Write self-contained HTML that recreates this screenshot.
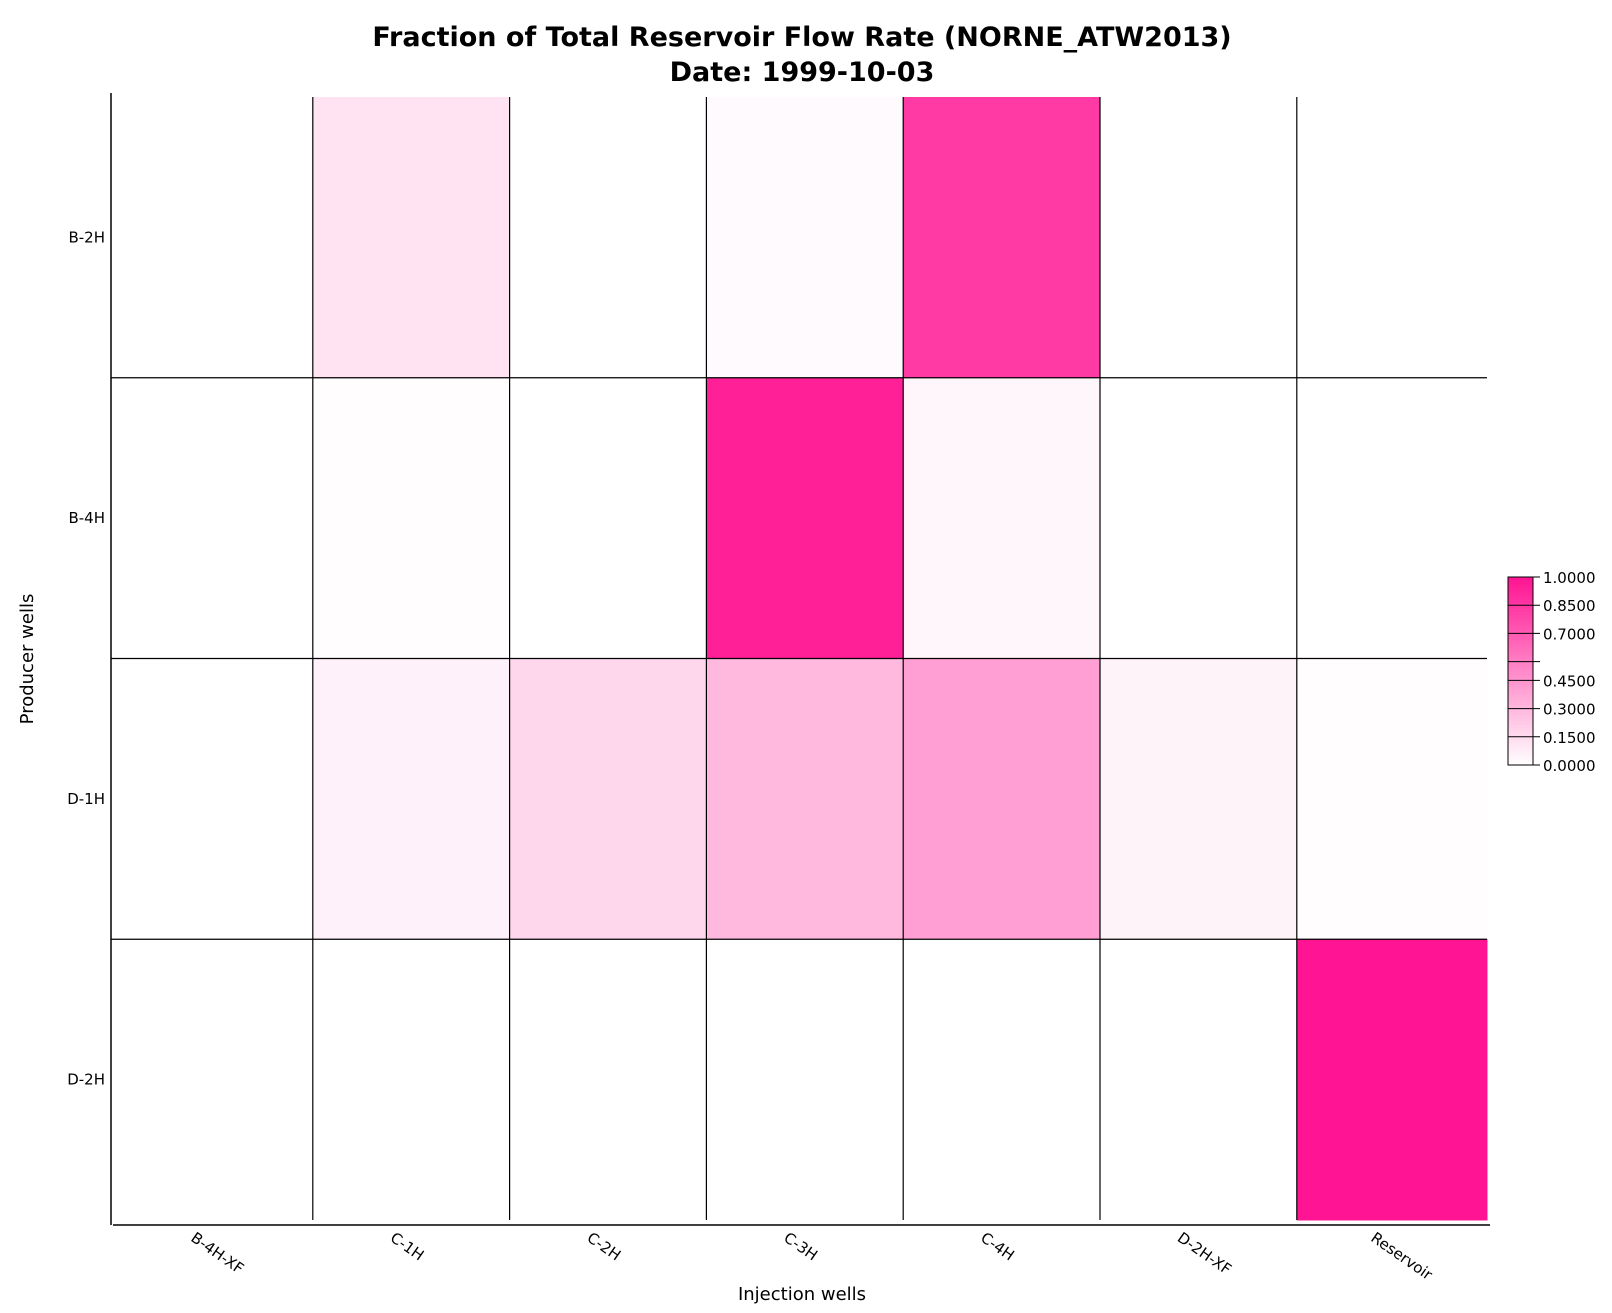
<!DOCTYPE html>
<html><head><meta charset="utf-8"><style>
html,body{margin:0;padding:0;background:#fff;}
svg{display:block;font-family:"DejaVu Sans","Liberation Sans",sans-serif;}
</style></head><body>
<svg id="chart" width="1612" height="1313" viewBox="0 0 1612 1313" xmlns="http://www.w3.org/2000/svg">
<text x="802" y="46" text-anchor="middle" font-size="27" font-weight="bold">Fraction of Total Reservoir Flow Rate (NORNE_ATW2013)</text>
<text x="802" y="81" text-anchor="middle" font-size="27" font-weight="bold">Date: 1999-10-03</text>
<g id="cells"></g>
<g id="grid"></g>
<g id="axes"></g>
<g id="cbar"></g>
<text x="802" y="1300" text-anchor="middle" font-size="18">Injection wells</text>
<text transform="translate(33,659) rotate(-90)" text-anchor="middle" font-size="18">Producer wells</text>
</svg>
<script>
const injectors = ["B-4H-XF","C-1H","C-2H","C-3H","C-4H","D-2H-XF","Reservoir"];
const producers = ["B-2H","B-4H","D-1H","D-2H"];
const rowB2H = [0, 0.12, 0, 0.02, 0.84, 0, 0];
const rowB4H = [0, 0.01, 0, 0.95, 0.04, 0, 0];
const rowD1H = [0, 0.06, 0.17, 0.30, 0.41, 0.05, 0.01];
const rowD2H = [0, 0, 0, 0, 0, 0, 1.0];
const cbarTicks = [0, 0.15, 0.30, 0.45, 0.55, 0.70, 0.85, 1.0];
const cbarLabels = ["0.0000","0.1500","0.3000","0.4500","","0.7000","0.8500","1.0000"];

const NS="http://www.w3.org/2000/svg";
const rows=[rowB2H,rowB4H,rowD1H,rowD2H];
const AX=111,X0=116,X1=1487,Y0=97,Y1=1220;
const cw=196.8, rh=(Y1-Y0)/producers.length;
const xPos=i=>Math.max(AX,Math.min(X1,X0+i*cw)), yPos=j=>Y0+j*rh;
function color(v){const g=Math.round(255-235*v),b=Math.round(255-108*v);return `rgb(255,${g},${b})`;}
function mk(tag,attrs,parent){const e=document.createElementNS(NS,tag);for(const k in attrs)e.setAttribute(k,attrs[k]);parent.appendChild(e);return e;}
const cells=document.getElementById('cells'),grid=document.getElementById('grid'),axes=document.getElementById('axes'),cb=document.getElementById('cbar');
rows.forEach((r,j)=>r.forEach((v,i)=>{
  const x0=i===0?AX:xPos(i), x1=i===injectors.length-1?X1:xPos(i+1);
  const rc=mk('rect',{x:x0,y:yPos(j),width:x1-x0+0.5,height:rh+0.5,fill:color(v)},cells);
  
  
}));
for(let i=1;i<injectors.length;i++){
  const l=mk('line',{x1:xPos(i),x2:xPos(i),y1:Y0,y2:Y1,stroke:'#000','stroke-width':1.2},grid);
  
  
}
for(let j=1;j<producers.length;j++){
  const l=mk('line',{x1:AX,x2:X1,y1:yPos(j),y2:yPos(j),stroke:'#000','stroke-width':1.2},grid);
  
  
}
let a=mk('line',{x1:AX,x2:AX,y1:93,y2:1225,stroke:'#000','stroke-width':1.5},axes);


a=mk('line',{x1:AX+2,x2:1490,y1:1225,y2:1225,stroke:'#000','stroke-width':1.5},axes);


producers.forEach((p,j)=>{
  const t=mk('text',{x:105,y:yPos(j)+rh/2+5,'text-anchor':'end','font-size':15},axes);
  t.textContent=p;
  
  
});
injectors.forEach((p,i)=>{
  const x0=i===0?AX:xPos(i), x1=i===injectors.length-1?X1:xPos(i+1);
  const cx=(x0+x1)/2-22;
  const t=mk('text',{transform:`translate(${cx},1240) rotate(35)`,'font-size':15},axes);
  t.textContent=p;
  
  
});
const CX=1508,CW=25,CT=577,CB=765;
const cy=v=>CB-(CB-CT)*v;
const N=60;
for(let k=0;k<N;k++){
  const v0=k/N,v1=(k+1)/N;
  const r=mk('rect',{x:CX,y:cy(v1),width:CW,height:cy(v0)-cy(v1)+0.5,fill:color((v0+v1)/2)},cb);
  
  
}
let o=mk('rect',{x:CX,y:CT,width:CW,height:CB-CT,fill:'none',stroke:'#000','stroke-width':1},cb);


cbarTicks.forEach((v,k)=>{
  const l=mk('line',{x1:CX,x2:CX+CW+7,y1:cy(v),y2:cy(v),stroke:'#000','stroke-width':1},cb);
  
  
  if(cbarLabels[k]){
    const t=mk('text',{x:CX+CW+10,y:cy(v)+6,'font-size':15},cb);
    t.textContent=cbarLabels[k];
    
    
  }
});
</script>
</body></html>
